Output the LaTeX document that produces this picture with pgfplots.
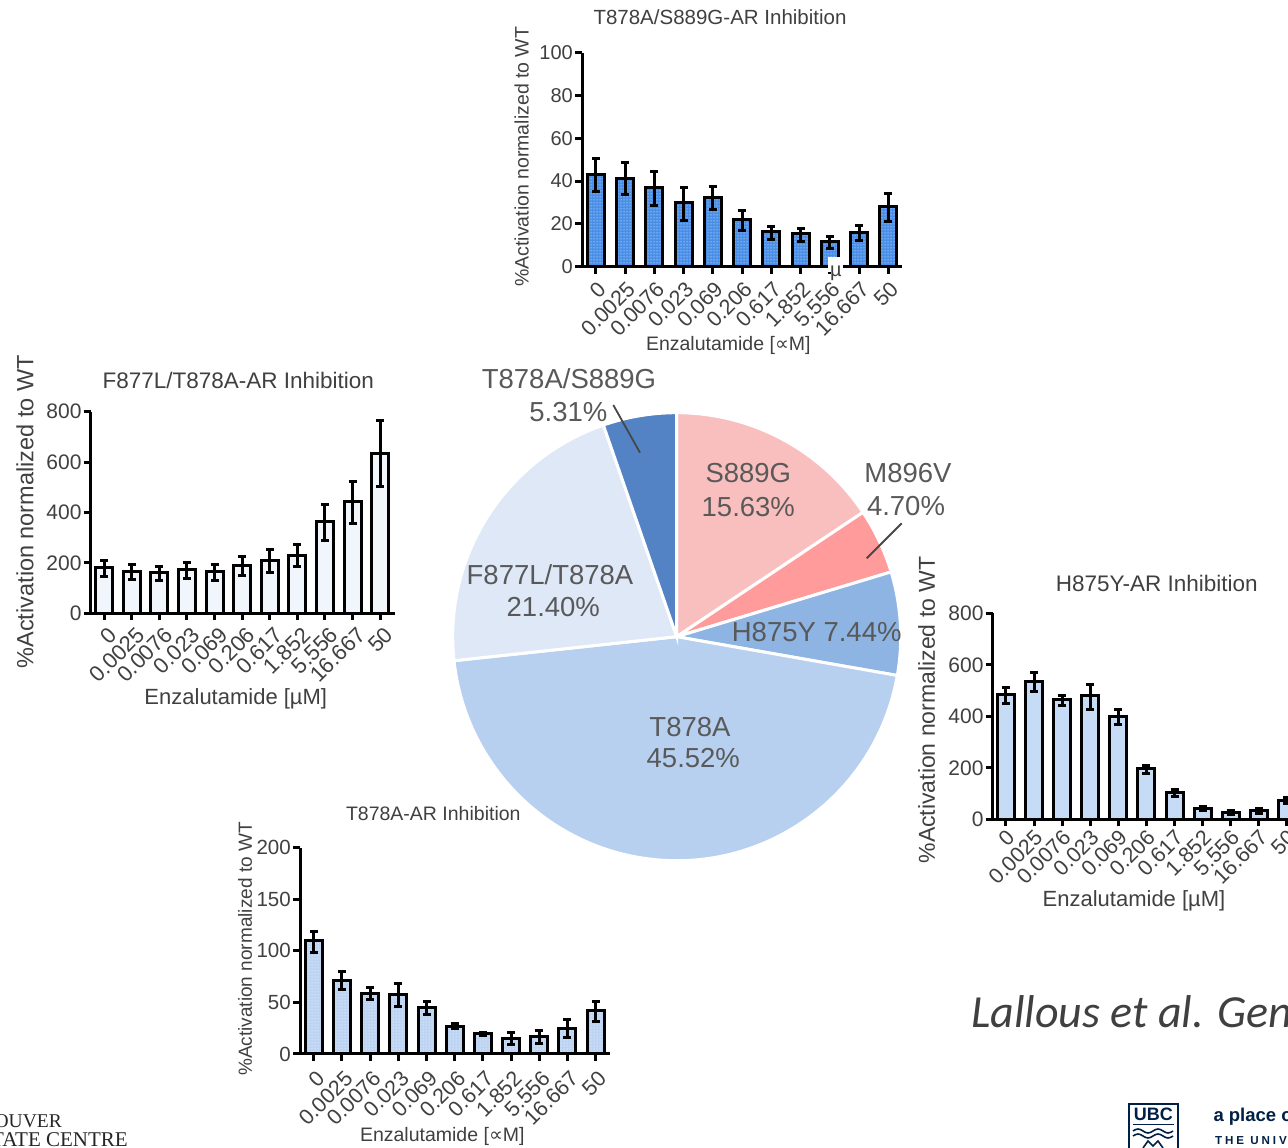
\documentclass[border=0pt]{standalone}
\usepackage{pgfplots}
\pgfplotsset{compat=1.18}
\usepackage{pgfplotstable}
\usetikzlibrary{patterns}
\usepackage{fontspec}
\setmainfont{Liberation Sans}
\newfontfamily\symfont{DejaVu Sans}
\newfontfamily\slidefont{Carlito}
\newfontfamily\logoserif{Liberation Serif}

\definecolor{txt}{HTML}{404040}
\definecolor{piegray}{HTML}{595959}
\definecolor{barblue}{HTML}{4A8FE7}
\definecolor{barpale}{HTML}{F1F6FC}
\definecolor{barlight}{HTML}{C6DBF5}
\definecolor{barsky}{HTML}{BCD4F2}
\definecolor{pS}{HTML}{F9BFBF}
\definecolor{pM}{HTML}{FF9B9B}
\definecolor{pH}{HTML}{8DB4E2}
\definecolor{pT}{HTML}{B8D0F0}
\definecolor{pF}{HTML}{DEE8F7}
\definecolor{pTS}{HTML}{5383C5}
\definecolor{ubcnavy}{HTML}{002145}

\newcommand{\fs}[1]{\fontsize{#1}{#1}\selectfont}

% dose-response data: x index, mean, error up, error down
\pgfplotstableread{
x y ep em
0 43.3 7.3 8.3
1 41.3 7.3 7.5
2 36.9 7.5 8.1
3 30.1 6.8 8.3
4 32.2 5.2 5.4
5 22.1 4.1 5.3
6 16.4 2.3 3.6
7 15.3 2.5 3.3
8 11.8 2.5 3.2
9 16.0 3.3 3.9
10 27.9 6.4 6.7
}\dataTS
\pgfplotstableread{
x y ep em
0 179.8 29 32
1 166.6 25 32
2 162.6 24 33
3 173.2 26.5 35.7
4 164.0 27.7 34.4
5 187.8 35.7 39.8
6 210.2 42.4 47.6
7 230.0 43.7 46.2
8 362.3 67.5 72.7
9 441.7 81.9 84.7
10 633.4 129.6 130.9
}\dataFT
\pgfplotstableread{
x y ep em
0 482.8 28.5 32.3
1 533.3 37.6 38.8
2 463.4 18.2 20.7
3 479.0 45.3 51.8
4 400.0 24.6 32.4
5 195.5 14.2 19.5
6 103.6 10.3 15.6
7 41.4 6.5 7.7
8 27.2 8 8
9 33.7 8 10
10 72.0 12 12
}\dataH
\pgfplotstableread{
x y ep em
0 109.9 8.7 11.4
1 71.7 7.8 8.7
2 58.8 5.2 5.5
3 57.8 10.7 11.9
4 44.6 6.1 6.5
5 27.1 2.0 2.5
6 20.0 1.0 1.6
7 15.5 5.5 6.5
8 16.8 5.8 6.5
9 25.2 7.8 9
10 41.7 9 10.4
}\dataT

\pgfplotsset{
  inhib/.style={
    scale only axis,
    axis x line*=bottom, axis y line*=left,
    axis line style={line width=3pt,-},
    tick align=outside, major tick length=7pt,
    tick style={line width=3pt,black},
    xtick={0,...,10},
    xticklabels={0,0.0025,0.0076,0.023,0.069,0.206,0.617,1.852,5.556,16.667,50},
    xticklabel style={rotate=45,anchor=north east,inner sep=1pt},
    yticklabel style={inner sep=2pt},
    ymin=0,
    ticklabel style={text=txt},
    /pgf/number format/assume math mode=true,
    clip=false,
  },
  bars/.style={ybar, bar width=17pt, bar shift=0pt, draw=black, line width=3pt,
    error bars/y dir=both, error bars/y explicit,
    error bars/error bar style={line width=3pt,black},
    error bars/error mark options={rotate=90,line width=3pt,mark size=4pt,black}},
}

% pie shares (percent), clockwise from 12 o'clock
\def\sS{15.63}\def\sM{4.70}\def\sH{7.44}\def\sT{45.52}\def\sF{21.40}\def\sTS{5.31}
\pgfmathsetmacro{\aA}{90}
\pgfmathsetmacro{\aB}{\aA-3.6*\sS}
\pgfmathsetmacro{\aC}{\aB-3.6*\sM}
\pgfmathsetmacro{\aD}{\aC-3.6*\sH}
\pgfmathsetmacro{\aE}{\aD-3.6*\sT}
\pgfmathsetmacro{\aF}{\aE-3.6*\sF}
\pgfmathsetmacro{\aG}{\aF-3.6*\sTS}

\begin{document}
\begin{tikzpicture}[x=1pt,y=1pt]
\useasboundingbox (0,0) rectangle (1288,1148);
\clip (0,0) rectangle (1288,1148);
\fill[white] (0,0) rectangle (1288,1148);

% ---- pie of mutation frequencies ----
\begin{axis}[hide axis, scale only axis, width=448pt, height=448pt,
  xmin=-1, xmax=1, ymin=-1, ymax=1, at={(676.7pt,511.3pt)}, anchor=center, clip=false]
\fill[pS,draw=white,line width=3pt] (axis cs:0,0) -- ++(\aA:224pt) arc[start angle=\aA,end angle=\aB,radius=224pt] -- cycle;
\fill[pM,draw=white,line width=3pt] (axis cs:0,0) -- ++(\aB:224pt) arc[start angle=\aB,end angle=\aC,radius=224pt] -- cycle;
\fill[pH,draw=white,line width=3pt] (axis cs:0,0) -- ++(\aC:224pt) arc[start angle=\aC,end angle=\aD,radius=224pt] -- cycle;
\fill[pT,draw=white,line width=3pt] (axis cs:0,0) -- ++(\aD:224pt) arc[start angle=\aD,end angle=\aE,radius=224pt] -- cycle;
\fill[pF,draw=white,line width=3pt] (axis cs:0,0) -- ++(\aE:224pt) arc[start angle=\aE,end angle=\aF,radius=224pt] -- cycle;
\fill[pTS,draw=white,line width=3pt] (axis cs:0,0) -- ++(\aF:224pt) arc[start angle=\aF,end angle=\aG,radius=224pt] -- cycle;
\end{axis}

\begin{scope}[every node/.style={text=piegray,font=\fs{27.5},inner sep=0pt}]
\node at (569,769.7) {T878A/S889G};
\node at (568.3,736.3) {5.31\%};
\node at (748.3,674.7) {S889G};
\node at (748.3,641.3) {15.63\%};
\node at (908,675) {M896V};
\node at (906,642) {4.70\%};
\node at (816.7,516.3) {H875Y 7.44\%};
\node at (550,573) {F877L/T878A};
\node at (553.3,541.3) {21.40\%};
\node at (690,421.3) {T878A};
\node at (693.3,389.7) {45.52\%};
\end{scope}
\draw[piegray!80!black,line width=1.8pt] (613.3,743) -- (640,695.3);
\draw[piegray!80!black,line width=1.8pt] (901.7,624.7) -- (866.7,589.7);

% ---- T878A/S889G-AR ----
\begin{axis}[inhib, at={(582pt,881.3pt)}, anchor=south west, width=320pt, height=214pt,
  xmin=-0.47, xmax=10.47, ymax=100, ytick={0,20,...,100},
  yticklabel style={font=\fs{20}},
  xticklabel style={font=\fs{21.5},xshift=-3pt,yshift=-4pt}]
\addplot[bars, fill=barblue, postaction={pattern=dots, pattern color=white}]
  table[x=x,y=y,y error plus=ep,y error minus=em]{\dataTS};
\end{axis}
\fill[white] (828,876) rectangle (843,891);
\node[text=txt,font=\fs{20},inner sep=0pt] at (836,875) {µ};
\node[text=txt,font=\fs{20.5}] at (720,1131) {T878A/S889G-AR Inhibition};
\node[text=txt,font=\fs{19.5},rotate=90] at (521.7,991.3) {\%Activation normalized to WT};
\node[text=txt,font=\fs{19.5}] at (728.3,803) {Enzalutamide [{\symfont ∝}M]};

% ---- F877L/T878A-AR ----
\begin{axis}[inhib, at={(90.7pt,534.7pt)}, anchor=south west, width=304.3pt, height=201.7pt,
  xmin=-0.49, xmax=10.54, ymax=800, ytick={0,200,...,800},
  yticklabel style={font=\fs{21}},
  xticklabel style={font=\fs{22},xshift=0pt,yshift=-5pt}]
\addplot[bars, fill=barpale]
  table[x=x,y=y,y error plus=ep,y error minus=em]{\dataFT};
\end{axis}
\node[text=txt,font=\fs{22.5}] at (238.3,768) {F877L/T878A-AR Inhibition};
\node[text=txt,font=\fs{23.5},rotate=90] at (25,636.3) {\%Activation normalized to WT};
\node[text=txt,font=\fs{22}] at (235.8,448.7) {Enzalutamide [µM]};

% ---- H875Y-AR ----
\begin{axis}[inhib, at={(992.7pt,328.7pt)}, anchor=south west, width=307.4pt, height=206pt,
  xmin=-0.47, xmax=10.47, ymax=800, ytick={0,200,...,800},
  yticklabel style={font=\fs{21}},
  xticklabel style={font=\fs{21.5},xshift=-1pt,yshift=0pt}]
\addplot[bars, fill=barlight]
  table[x=x,y=y,y error plus=ep,y error minus=em]{\dataH};
\end{axis}
\node[text=txt,font=\fs{22.5}] at (1156.7,564.7) {H875Y-AR Inhibition};
\node[text=txt,font=\fs{23},rotate=90] at (926.7,438) {\%Activation normalized to WT};
\node[text=txt,font=\fs{22}] at (1134,247) {Enzalutamide [µM]};

% ---- T878A-AR ----
\begin{axis}[inhib, at={(300pt,94pt)}, anchor=south west, width=310pt, height=206.3pt,
  xmin=-0.49, xmax=10.51, ymax=200, ytick={0,50,...,200},
  yticklabel style={font=\fs{20.5}},
  xticklabel style={font=\fs{21.5},xshift=-4pt,yshift=-6pt}]
\addplot[bars, fill=barsky, postaction={pattern=dots, pattern color=white}]
  table[x=x,y=y,y error plus=ep,y error minus=em]{\dataT};
\end{axis}
\node[text=txt,font=\fs{19.5}] at (433.3,334.7) {T878A-AR Inhibition};
\node[text=txt,font=\fs{19},rotate=90] at (245,199) {\%Activation normalized to WT};
\node[text=txt,font=\fs{19.5}] at (442.3,11.3) {Enzalutamide [{\symfont ∝}M]};

% ---- slide footer ----
\node[anchor=base west,text=txt,font={\slidefont\itshape\fs{46}},inner sep=0pt] at (971,120) {Lallous et al. Genome Biology 2016};
\node[anchor=base east,text=black!85,font={\logoserif\fs{19.5}},inner sep=0pt] at (62,20) {VANCOUVER};
\node[anchor=base east,text=black!85,font={\logoserif\fs{21}},inner sep=0pt] at (128,1.5) {PROSTATE CENTRE};
\draw[ubcnavy,line width=1.6pt] (1128.8,-5) rectangle (1177.8,44);
\node[text=ubcnavy,font={\bfseries\fs{18}},inner sep=0pt,anchor=base] at (1153.3,27) {UBC};
\draw[ubcnavy,line width=1.4pt] (1133,23.5) -- (1173.6,23.5);
\foreach \yy in {17,12} {
  \draw[ubcnavy,line width=1.6pt] (1133,\yy) sin (1138,\yy+2) cos (1143,\yy) sin (1148,\yy-2) cos (1153,\yy) sin (1158,\yy+2) cos (1163,\yy) sin (1168,\yy-2) cos (1173,\yy);
}
\draw[ubcnavy,line width=1.6pt] (1143,0) -- (1148,7) -- (1153,2) -- (1158,7) -- (1163,0);
\node[anchor=base west,text=ubcnavy,font={\bfseries\fs{18.5}},inner sep=0pt] at (1213.3,26.3) {a place of mind};
\node[anchor=base west,text=ubcnavy,font={\bfseries\fs{11.6}\addfontfeature{LetterSpace=25}},inner sep=0pt] at (1215,3) {THE UNIVERSITY OF BRITISH COLUMBIA};
\end{tikzpicture}
\end{document}
